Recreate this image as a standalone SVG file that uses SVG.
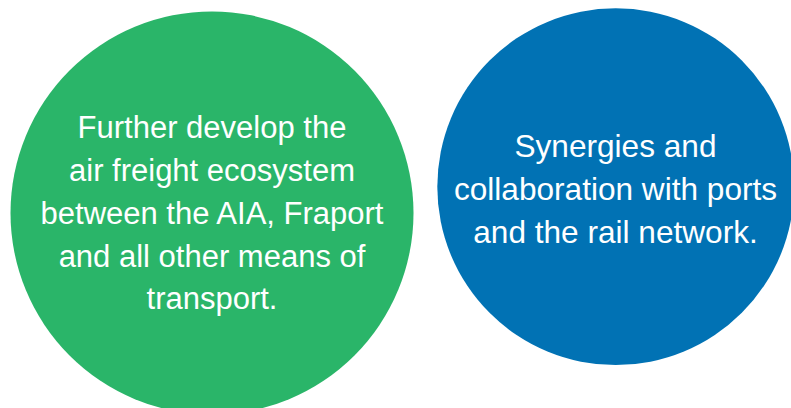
<svg xmlns="http://www.w3.org/2000/svg" width="791" height="408" viewBox="0 0 791 408">
<style>
.lbl{font-family:"Liberation Sans",Arial,sans-serif;font-size:31px;fill:#ffffff;text-anchor:middle}
.lbl2{font-size:31.6px}
</style>
<rect width="791" height="408" fill="#ffffff"/>
<g id="node-ecosystem">
<circle cx="212" cy="213" r="201.5" fill="#2AB569"/>
<text class="lbl" x="212" y="138">Further develop the</text>
<text class="lbl" x="212" y="181">air freight ecosystem</text>
<text class="lbl" x="212" y="224">between the AIA, Fraport</text>
<text class="lbl" x="212" y="267">and all other means of</text>
<text class="lbl" x="212" y="309">transport.</text>
</g>
<g id="node-synergies">
<circle cx="615.7" cy="186.7" r="178.4" fill="#0172B4"/>
<text class="lbl lbl2" x="615.5" y="157">Synergies and</text>
<text class="lbl lbl2" x="615.5" y="200">collaboration with ports</text>
<text class="lbl lbl2" x="615.5" y="243">and the rail network.</text>
</g>
<g id="connectors"/>
</svg>
